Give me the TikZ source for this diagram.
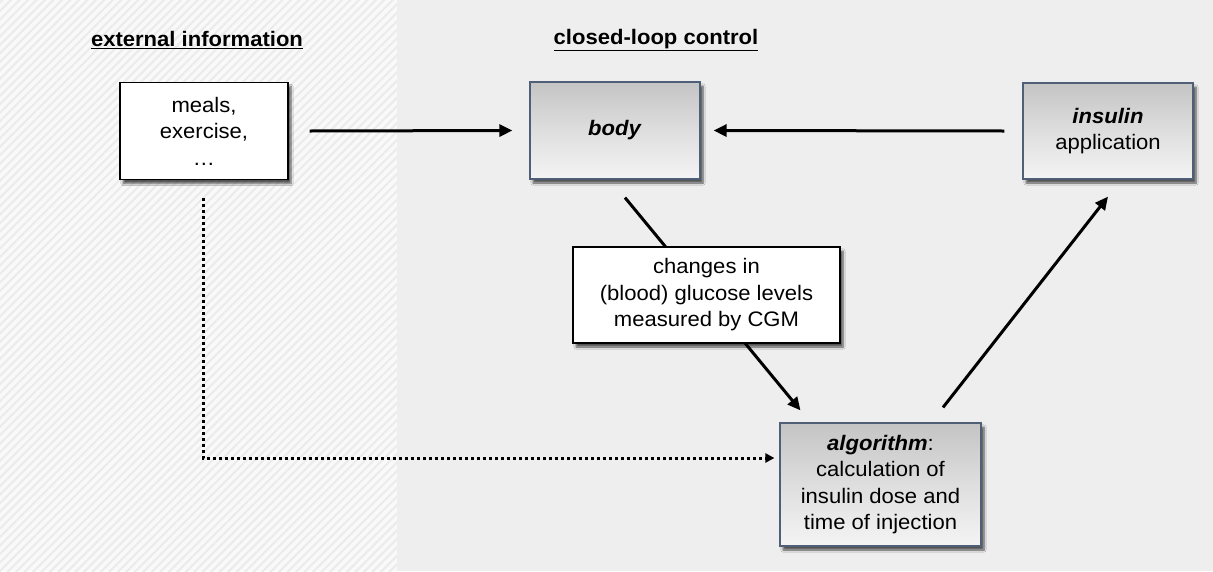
\documentclass[tikz,border=0pt]{standalone}
\usepackage{fontspec}
\setmainfont{Liberation Sans}[FakeStretch=1.05]
\usetikzlibrary{patterns.meta,shadows.blur,arrows.meta}
\definecolor{gregion}{HTML}{EEEEEE}
\definecolor{hatchbg}{HTML}{F9F9F9}
\definecolor{hatchln}{HTML}{EBEBEB}
\definecolor{slate}{HTML}{4F5F78}
\definecolor{boxtop}{HTML}{C4C4C4}
\definecolor{boxmid}{HTML}{DEDEDE}
\definecolor{boxbot}{HTML}{F4F4F4}
\begin{document}
\begin{tikzpicture}[x=1pt,y=-1pt,
  font=\fontsize{21}{26.5}\selectfont,
  box/.style={draw=black,line width=1.2pt,fill=white,align=center,inner sep=0pt,
    blur shadow={shadow xshift=3pt,shadow yshift=-4pt,shadow blur steps=6,shadow opacity=65}},
  gbox/.style={box,draw=slate,top color=boxtop,bottom color=boxbot,middle color=boxmid},
  arr/.style={line width=3pt,-{Triangle[length=13pt,width=12pt]}},
  dots/.style={line width=3pt,dash pattern=on 3pt off 3pt,-{Triangle[length=9pt,width=9pt]}},
  title/.style={font=\fontsize{21}{24}\selectfont\bfseries},
]
\useasboundingbox (0,0) rectangle (1213,571);
% backgrounds
\fill[hatchbg] (0,0) rectangle (397,571);
\fill[pattern={Lines[angle=45,distance=6pt,line width=2pt]},pattern color=hatchln] (0,0) rectangle (397,571);
\fill[gregion] (397,0) rectangle (1213,571);
% titles
\node[title] (t1) at (197,40) {\underline{external information}};
\node[title] (t2) at (656,40) {\underline{closed-loop control}};
% boxes
\node[box,minimum width=168pt,minimum height=97pt] (meals) at (204,131) {meals,\\exercise,\\\dots};
\node[gbox,minimum width=170pt,minimum height=97pt] (body) at (615,130.5) {\textbf{\textit{body}}};
\node[gbox,minimum width=170pt,minimum height=96pt] (ins) at (1108,131) {\textbf{\textit{insulin}}\\application};
\node[gbox,minimum width=201pt,minimum height=123pt] (alg) at (880.5,484.5) {\textbf{\textit{algorithm}}:\\calculation of\\insulin dose and\\time of injection};
% arrows
\draw[arr] ([xshift=21pt]meals.east) -- ([xshift=-17pt]body.west);
\draw[arr] ([xshift=-18pt]ins.west) -- ([xshift=13pt]body.east);
\draw[arr] ([xshift=10pt,yshift=-18pt]body.south) -- ([xshift=-80pt,yshift=12pt]alg.north);
\draw[arr] ([xshift=62.5pt,yshift=15pt]alg.north) -- ([yshift=-17pt]ins.south);
\draw[dots] ([xshift=-1pt,yshift=-18pt]meals.south) |- ([xshift=-5pt,yshift=26.5pt]alg.west);
% label box over the arrow
\node[box,minimum width=267pt,minimum height=96pt] (chg) at (706.5,295) {changes in\\(blood) glucose levels\\measured by CGM};
\end{tikzpicture}
\end{document}
